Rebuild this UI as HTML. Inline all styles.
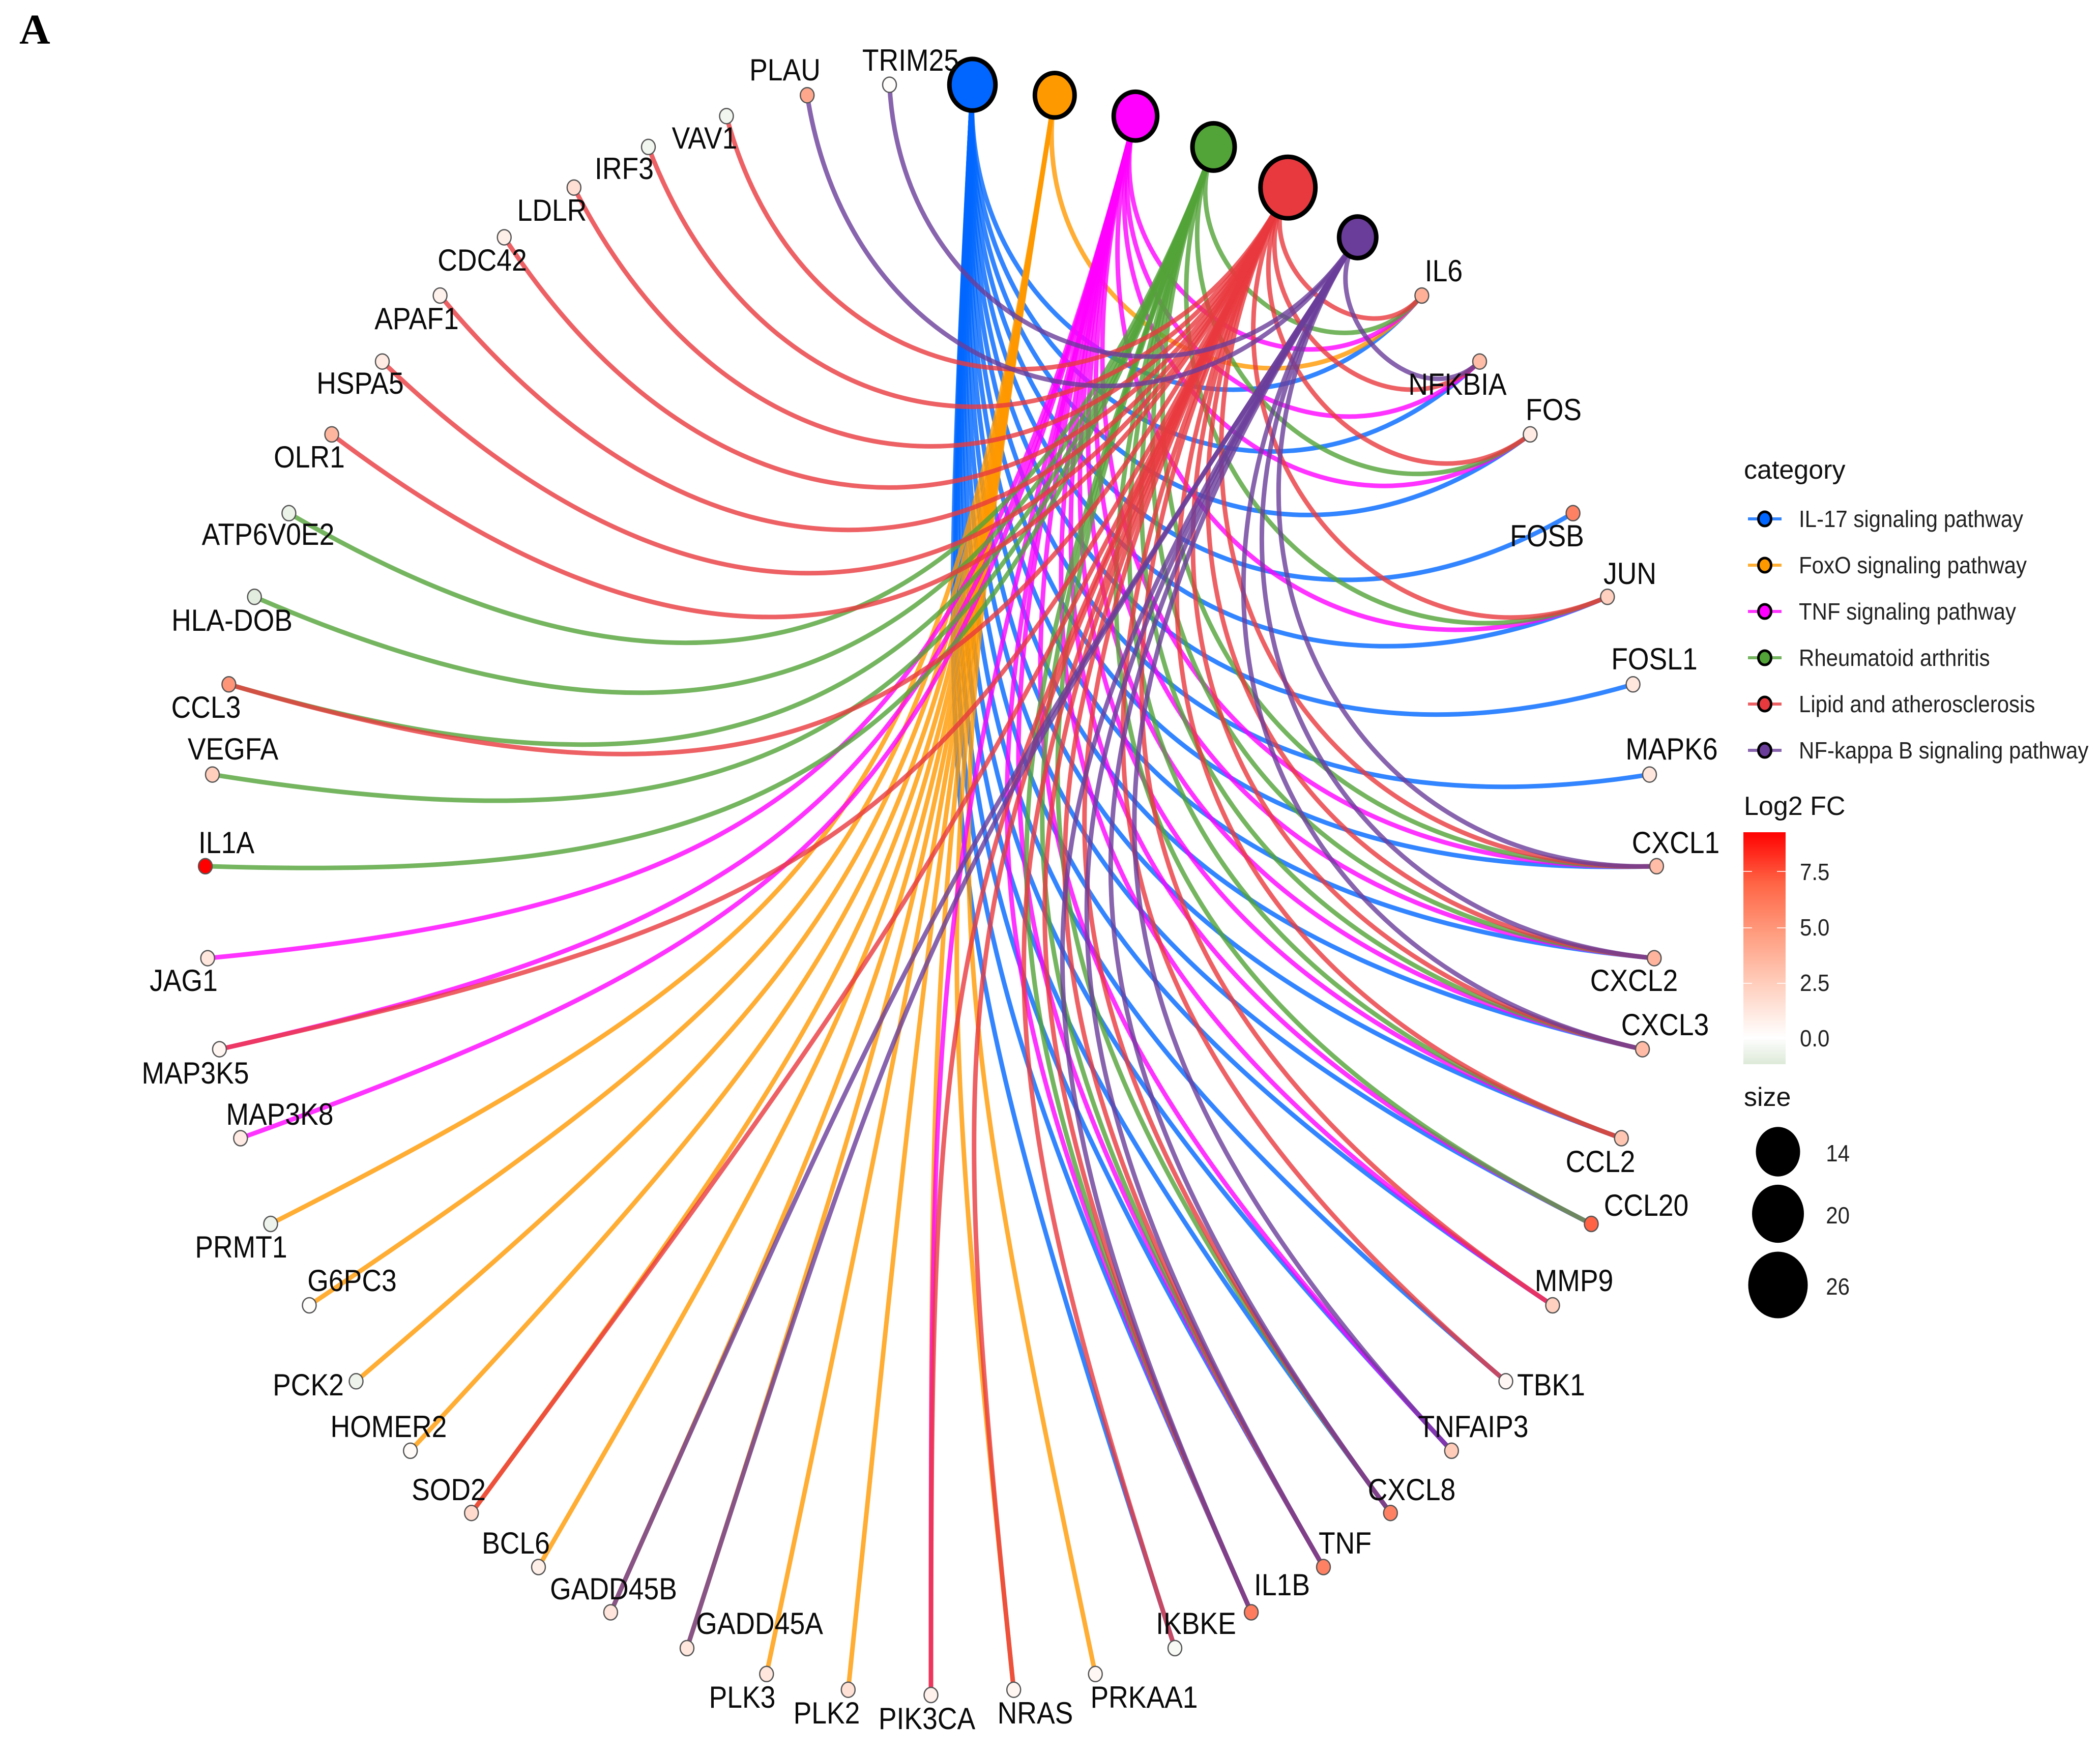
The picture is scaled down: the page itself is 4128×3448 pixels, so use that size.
<!DOCTYPE html>
<html lang="en">
<head>
<meta charset="utf-8">
<title>Pathway gene network</title>
<style>
html,body{margin:0;padding:0;background:#fff;}
svg{display:block;}
text{font-family:"Liberation Sans",sans-serif;fill:#000;}
.gl{font-size:53.5px;text-anchor:middle;fill:#0a0a0a;}
.lt{font-size:42px;fill:#222;}
.lh{font-size:52px;fill:#111;}
</style>
</head>
<body>
<svg id="chart" xmlns="http://www.w3.org/2000/svg" width="4128" height="3448" viewBox="0 0 4128 3448">
<defs>
<linearGradient id="fcGrad" x1="0" y1="0" x2="0" y2="1">
<stop offset="0" stop-color="#ff0000"/>
<stop offset="0.221" stop-color="#ff6545"/>
<stop offset="0.443" stop-color="#ff9e81"/>
<stop offset="0.664" stop-color="#ffd0bf"/>
<stop offset="0.885" stop-color="#ffffff"/>
<stop offset="1" stop-color="#dde9d8"/>
</linearGradient>
</defs>
<rect x="0" y="0" width="4128" height="3448" fill="#ffffff"/>
<text x="38" y="86" style="font-family:'Liberation Serif',serif;font-weight:bold;font-size:84px">A</text>

<g id="edges" fill="none" stroke-width="9" stroke-opacity="0.8" stroke-linecap="butt"></g>
<g id="geneNodes"></g>
<g id="hubNodes"></g>

<g id="geneLabels" transform="translate(0 -3)">
<text class="gl" transform="translate(2838 556) scale(1 1.12)">IL6</text>
<text class="gl" transform="translate(2865 779) scale(1 1.12)">NFKBIA</text>
<text class="gl" transform="translate(3054 829) scale(1 1.12)">FOS</text>
<text class="gl" transform="translate(3041 1077) scale(1 1.12)">FOSB</text>
<text class="gl" transform="translate(3204 1151) scale(1 1.12)">JUN</text>
<text class="gl" transform="translate(3252 1319) scale(1 1.12)">FOSL1</text>
<text class="gl" transform="translate(3286 1496) scale(1 1.12)">MAPK6</text>
<text class="gl" transform="translate(3294 1680) scale(1 1.12)">CXCL1</text>
<text class="gl" transform="translate(3212 1951) scale(1 1.12)">CXCL2</text>
<text class="gl" transform="translate(3273 2038) scale(1 1.12)">CXCL3</text>
<text class="gl" transform="translate(3146 2307) scale(1 1.12)">CCL2</text>
<text class="gl" transform="translate(3236 2393) scale(1 1.12)">CCL20</text>
<text class="gl" transform="translate(3094 2541) scale(1 1.12)">MMP9</text>
<text class="gl" transform="translate(3049 2746) scale(1 1.12)">TBK1</text>
<text class="gl" transform="translate(2896 2828) scale(1 1.12)">TNFAIP3</text>
<text class="gl" transform="translate(2775 2952) scale(1 1.12)">CXCL8</text>
<text class="gl" transform="translate(2644 3057) scale(1 1.12)">TNF</text>
<text class="gl" transform="translate(2520 3139) scale(1 1.12)">IL1B</text>
<text class="gl" transform="translate(2351 3215) scale(1 1.12)">IKBKE</text>
<text class="gl" transform="translate(2249 3360) scale(1 1.12)">PRKAA1</text>
<text class="gl" transform="translate(2035 3391) scale(1 1.12)">NRAS</text>
<text class="gl" transform="translate(1822 3402) scale(1 1.12)">PIK3CA</text>
<text class="gl" transform="translate(1625 3391) scale(1 1.12)">PLK2</text>
<text class="gl" transform="translate(1459 3360) scale(1 1.12)">PLK3</text>
<text class="gl" transform="translate(1493 3215) scale(1 1.12)">GADD45A</text>
<text class="gl" transform="translate(1206 3147) scale(1 1.12)">GADD45B</text>
<text class="gl" transform="translate(1014 3057) scale(1 1.12)">BCL6</text>
<text class="gl" transform="translate(882 2952) scale(1 1.12)">SOD2</text>
<text class="gl" transform="translate(764 2828) scale(1 1.12)">HOMER2</text>
<text class="gl" transform="translate(606 2746) scale(1 1.12)">PCK2</text>
<text class="gl" transform="translate(692 2541) scale(1 1.12)">G6PC3</text>
<text class="gl" transform="translate(474 2475) scale(1 1.12)">PRMT1</text>
<text class="gl" transform="translate(550 2214) scale(1 1.12)">MAP3K8</text>
<text class="gl" transform="translate(384 2133) scale(1 1.12)">MAP3K5</text>
<text class="gl" transform="translate(361 1951) scale(1 1.12)">JAG1</text>
<text class="gl" transform="translate(445 1680) scale(1 1.12)">IL1A</text>
<text class="gl" transform="translate(458 1496) scale(1 1.12)">VEGFA</text>
<text class="gl" transform="translate(405 1414) scale(1 1.12)">CCL3</text>
<text class="gl" transform="translate(456 1243) scale(1 1.12)">HLA-DOB</text>
<text class="gl" transform="translate(527 1074) scale(1 1.12)">ATP6V0E2</text>
<text class="gl" transform="translate(608 922) scale(1 1.12)">OLR1</text>
<text class="gl" transform="translate(708 777) scale(1 1.12)">HSPA5</text>
<text class="gl" transform="translate(819 650) scale(1 1.12)">APAF1</text>
<text class="gl" transform="translate(948 535) scale(1 1.12)">CDC42</text>
<text class="gl" transform="translate(1085 437) scale(1 1.12)">LDLR</text>
<text class="gl" transform="translate(1227 355) scale(1 1.12)">IRF3</text>
<text class="gl" transform="translate(1385 295) scale(1 1.12)">VAV1</text>
<text class="gl" transform="translate(1543 161) scale(1 1.12)">PLAU</text>
<text class="gl" transform="translate(1790 142) scale(1 1.12)">TRIM25</text>
</g>

<g id="categoryLegend">
<text class="lh" x="3428" y="941">category</text>
<g><line x1="3436" x2="3502" y1="1020" y2="1020" stroke="#0066ff" stroke-opacity=".8" stroke-width="6"/><ellipse cx="3469" cy="1020" rx="12.5" ry="14" fill="#0066ff" stroke="#000" stroke-width="5"/><text class="lt" transform="translate(3536 1036) scale(1 1.1)">IL-17 signaling pathway</text></g>
<g><line x1="3436" x2="3502" y1="1111" y2="1111" stroke="#ff9900" stroke-opacity=".8" stroke-width="6"/><ellipse cx="3469" cy="1111" rx="12.5" ry="14" fill="#ff9900" stroke="#000" stroke-width="5"/><text class="lt" transform="translate(3536 1127) scale(1 1.1)">FoxO signaling pathway</text></g>
<g><line x1="3436" x2="3502" y1="1202" y2="1202" stroke="#ff00ff" stroke-opacity=".8" stroke-width="6"/><ellipse cx="3469" cy="1202" rx="12.5" ry="14" fill="#ff00ff" stroke="#000" stroke-width="5"/><text class="lt" transform="translate(3536 1218) scale(1 1.1)">TNF signaling pathway</text></g>
<g><line x1="3436" x2="3502" y1="1293" y2="1293" stroke="#52a338" stroke-opacity=".8" stroke-width="6"/><ellipse cx="3469" cy="1293" rx="12.5" ry="14" fill="#52a338" stroke="#000" stroke-width="5"/><text class="lt" transform="translate(3536 1309) scale(1 1.1)">Rheumatoid arthritis</text></g>
<g><line x1="3436" x2="3502" y1="1384" y2="1384" stroke="#e8393e" stroke-opacity=".8" stroke-width="6"/><ellipse cx="3469" cy="1384" rx="12.5" ry="14" fill="#e8393e" stroke="#000" stroke-width="5"/><text class="lt" transform="translate(3536 1400) scale(1 1.1)">Lipid and atherosclerosis</text></g>
<g><line x1="3436" x2="3502" y1="1475" y2="1475" stroke="#6a3d9a" stroke-opacity=".8" stroke-width="6"/><ellipse cx="3469" cy="1475" rx="12.5" ry="14" fill="#6a3d9a" stroke="#000" stroke-width="5"/><text class="lt" transform="translate(3536 1491) scale(1 1.1)">NF-kappa B signaling pathway</text></g>
</g>

<g id="colorLegend">
<text class="lh" x="3428" y="1602">Log2 FC</text>
<rect x="3427" y="1636" width="83" height="456" fill="url(#fcGrad)"/>
<g stroke="#ffffff" stroke-width="2" stroke-opacity=".8">
<line x1="3427" x2="3444" y1="1713" y2="1713"/><line x1="3493" x2="3510" y1="1713" y2="1713"/>
<line x1="3427" x2="3444" y1="1824" y2="1824"/><line x1="3493" x2="3510" y1="1824" y2="1824"/>
<line x1="3427" x2="3444" y1="1933" y2="1933"/><line x1="3493" x2="3510" y1="1933" y2="1933"/>
<line x1="3427" x2="3444" y1="2041" y2="2041"/><line x1="3493" x2="3510" y1="2041" y2="2041"/>
</g>
<text class="lt" transform="translate(3538 1730) scale(1 1.1)">7.5</text>
<text class="lt" transform="translate(3538 1839) scale(1 1.1)">5.0</text>
<text class="lt" transform="translate(3538 1948) scale(1 1.1)">2.5</text>
<text class="lt" transform="translate(3538 2057) scale(1 1.1)">0.0</text>
</g>

<g id="sizeLegend">
<text class="lh" x="3428" y="2174">size</text>
<text class="lt" text-anchor="end" transform="translate(3636 2283) scale(1 1.1)">14</text>
<text class="lt" text-anchor="end" transform="translate(3636 2405) scale(1 1.1)">20</text>
<text class="lt" text-anchor="end" transform="translate(3636 2545) scale(1 1.1)">26</text>
</g>
</svg>

<script>
// ---- data ----
const hubNames = ["IL-17 signaling pathway","FoxO signaling pathway","TNF signaling pathway","Rheumatoid arthritis","Lipid and atherosclerosis","NF-kappa B signaling pathway"];
const hubColors = ["#0066ff","#ff9900","#ff00ff","#52a338","#e8393e","#6a3d9a"];
const geneNames = ["IL6","NFKBIA","FOS","FOSB","JUN","FOSL1","MAPK6","CXCL1","CXCL2","CXCL3","CCL2","CCL20","MMP9","TBK1","TNFAIP3","CXCL8","TNF","IL1B","IKBKE","PRKAA1","NRAS","PIK3CA","PLK2","PLK3","GADD45A","GADD45B","BCL6","SOD2","HOMER2","PCK2","G6PC3","PRMT1","MAP3K8","MAP3K5","JAG1","IL1A","VEGFA","CCL3","HLA-DOB","ATP6V0E2","OLR1","HSPA5","APAF1","CDC42","LDLR","IRF3","VAV1","PLAU","TRIM25"];
const geneLog2FC = [3.8,3.2,1.0,5.8,2.3,1.2,1.2,3.2,3.6,3.3,2.8,7.0,2.3,0.4,2.5,5.8,5.8,6.0,-0.3,0.4,0.5,0.7,1.5,1.2,1.2,1.3,0.8,1.8,0.2,-0.6,0.1,-0.6,1.0,0.5,1.2,9.27,2.4,5.0,-1.0,-0.7,3.5,1.0,0.7,0.8,1.6,-0.5,-0.5,4.2,0.1];
const il17Genes = ["IL6","NFKBIA","FOS","FOSB","JUN","FOSL1","MAPK6","CXCL1","CXCL2","CXCL3","CCL2","CCL20","MMP9","TBK1","TNFAIP3","CXCL8","TNF","IL1B","IKBKE"];
const foxoGenes = ["IL6","PRKAA1","NRAS","PIK3CA","PLK2","PLK3","GADD45A","GADD45B","BCL6","SOD2","HOMER2","PCK2","G6PC3","PRMT1"];
const tnfGenes = ["IL6","NFKBIA","FOS","JUN","CXCL1","CXCL2","CXCL3","CCL2","CCL20","MMP9","TNFAIP3","TNF","IL1B","PIK3CA","MAP3K8","MAP3K5","JAG1"];
const raGenes = ["IL6","FOS","JUN","CXCL1","CXCL2","CXCL3","CCL2","CCL20","CXCL8","TNF","IL1B","IL1A","VEGFA","CCL3","HLA-DOB","ATP6V0E2"];
const lipidGenes = ["IL6","NFKBIA","FOS","JUN","CXCL1","CXCL2","CXCL3","CCL2","MMP9","TBK1","CXCL8","TNF","IL1B","IKBKE","NRAS","PIK3CA","SOD2","MAP3K5","CCL3","OLR1","HSPA5","APAF1","CDC42","LDLR","IRF3","VAV1"];
const nfkbGenes = ["NFKBIA","CXCL1","CXCL2","CXCL3","TNFAIP3","CXCL8","TNF","IL1B","GADD45A","GADD45B","PLAU","TRIM25"];
const pathwayGenes = [il17Genes,foxoGenes,tnfGenes,raGenes,lipidGenes,nfkbGenes];
const sizeLegendValues = [14,20,26];

// ---- scales ----
const SVGNS = "http://www.w3.org/2000/svg";
const CX = 1830, CY = 1748, RX = 1427, RY = 1584, STRETCH = 1.12;
const nodeCount = hubNames.length + geneNames.length;
function unitPos(i){
  const a = (i + 0.5) * 2 * Math.PI / nodeCount;
  return [Math.sin(a), -Math.cos(a)];
}
function xScale(u){ return CX + RX * u; }
function yScale(v){ return CY + RY * v; }
function sizeScale(s){ return 41 + (s - 12) * 1.25; }
const fcMax = 9.27, fcMin = -1.2;
const warmStops = [[255,255,255],[255,208,191],[255,158,129],[255,101,69],[255,0,0]];
function colorScale(v){
  if (v < 0){
    const t = Math.min(1, v / fcMin);
    return "rgb(" + Math.round(255 - 34*t) + "," + Math.round(255 - 22*t) + "," + Math.round(255 - 39*t) + ")";
  }
  const p = Math.min(1, v / fcMax) * (warmStops.length - 1);
  const k = Math.min(warmStops.length - 2, Math.floor(p));
  const f = p - k;
  const c = [0,1,2].map(function(j){ return Math.round(warmStops[k][j] + (warmStops[k+1][j] - warmStops[k][j]) * f); });
  return "rgb(" + c.join(",") + ")";
}
function arcPath(a, b){
  const d = Math.hypot(a[0]-b[0], a[1]-b[1]);
  const k = Math.max(0, 1 - d / 2);
  return "M" + xScale(a[0]).toFixed(1) + " " + yScale(a[1]).toFixed(1) +
    "C" + xScale(a[0]*k).toFixed(1) + " " + yScale(a[1]*k).toFixed(1) +
    " " + xScale(b[0]*k).toFixed(1) + " " + yScale(b[1]*k).toFixed(1) +
    " " + xScale(b[0]).toFixed(1) + " " + yScale(b[1]).toFixed(1);
}

// ---- draw edges ----
const edgesG = document.getElementById("edges");
pathwayGenes.forEach(function(list, h){
  const hp = unitPos(h);
  list.forEach(function(name){
    const g = geneNames.indexOf(name);
    if (g < 0) return;
    const el = document.createElementNS(SVGNS, "path");
    el.setAttribute("d", arcPath(hp, unitPos(hubNames.length + g)));
    el.setAttribute("stroke", hubColors[h]);
    
    
    edgesG.appendChild(el);
  });
});

// ---- draw gene nodes ----
const genesG = document.getElementById("geneNodes");
geneNames.forEach(function(name, g){
  const p = unitPos(hubNames.length + g);
  const el = document.createElementNS(SVGNS, "ellipse");
  el.setAttribute("cx", xScale(p[0]).toFixed(1));
  el.setAttribute("cy", yScale(p[1]).toFixed(1));
  el.setAttribute("rx", 13.5);
  el.setAttribute("ry", 15);
  el.setAttribute("fill", colorScale(geneLog2FC[g]));
  el.setAttribute("stroke", "#555");
  el.setAttribute("stroke-width", 2.5);
  
  
  genesG.appendChild(el);
});

// ---- draw hub nodes ----
const hubsG = document.getElementById("hubNodes");
hubNames.forEach(function(name, h){
  const p = unitPos(h);
  const r = sizeScale(pathwayGenes[h].length);
  const el = document.createElementNS(SVGNS, "ellipse");
  el.setAttribute("cx", xScale(p[0]).toFixed(1));
  el.setAttribute("cy", yScale(p[1]).toFixed(1));
  el.setAttribute("rx", r - 4.5);
  el.setAttribute("ry", (r - 4.5) * STRETCH);
  el.setAttribute("fill", hubColors[h]);
  el.setAttribute("stroke", "#000");
  el.setAttribute("stroke-width", 9);
  
  
  hubsG.appendChild(el);
});

// ---- size legend ----
const sizeG = document.getElementById("sizeLegend");
const sizeLegendRows = [2264, 2386, 2526];
sizeLegendValues.forEach(function(s, i){
  const r = sizeScale(s);
  const el = document.createElementNS(SVGNS, "ellipse");
  el.setAttribute("cx", 3495);
  el.setAttribute("cy", sizeLegendRows[i]);
  el.setAttribute("rx", r);
  el.setAttribute("ry", r * STRETCH);
  el.setAttribute("fill", "#000");
  
  
  sizeG.appendChild(el);
});
</script>
</body>
</html>
